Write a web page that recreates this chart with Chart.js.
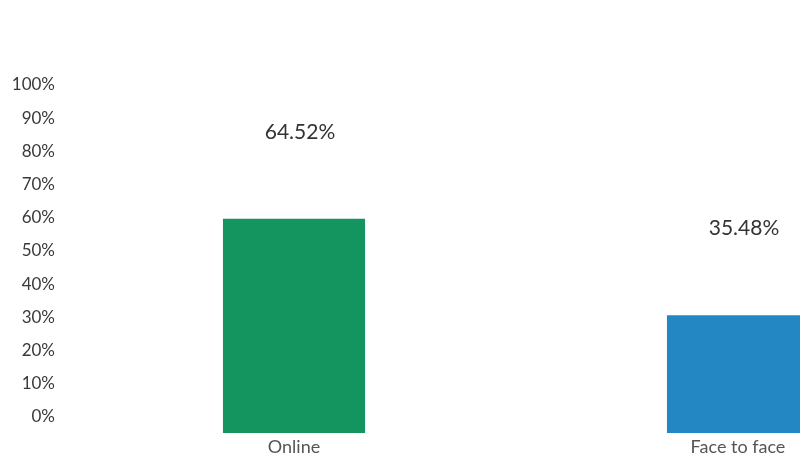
<!DOCTYPE html>
<html>
<head>
<meta charset="utf-8">
<title>Online vs Face to face</title>
<script src="https://cdn.jsdelivr.net/npm/chart.js@4/dist/chart.umd.min.js"></script>
<style>
  html, body { margin: 0; padding: 0; background: #ffffff; overflow: hidden; }
  #wrap { width: 960px; height: 459px; }
  canvas { display: block; }
</style>
</head>
<body>
<div id="wrap"><canvas id="chart" width="960" height="459"></canvas></div>
<script>
// Share of responses by delivery mode (percent)
const categories = ['Online', 'Face to face'];
const shares = [64.52, 35.48];
const barColors = ['#14955f', '#2387c3'];
const tickValues = [0, 10, 20, 30, 40, 50, 60, 70, 80, 90, 100];

const FONT = 'Lato, "Open Sans", sans-serif';

// Writes each bar's value above it
const valueLabels = {
  id: 'valueLabels',
  afterDatasetsDraw(chart) {
    const ctx = chart.ctx;
    const meta = chart.getDatasetMeta(0);
    ctx.save();
    ctx.font = '21px ' + FONT;
    ctx.fillStyle = '#333333';
    ctx.textAlign = 'center';
    ctx.textBaseline = 'middle';
    meta.data.forEach((bar, i) => {
      const v = chart.data.datasets[0].data[i];
      ctx.fillText(v.toFixed(2) + '%', bar.x + 6, bar.y - 87);
    });
    ctx.restore();
  }
};

new Chart(document.getElementById('chart'), {
  type: 'bar',
  data: {
    labels: categories,
    datasets: [{
      data: shares,
      backgroundColor: barColors,
      borderWidth: 0,
      categoryPercentage: 1,
      barPercentage: 0.32
    }]
  },
  options: {
    responsive: false,
    animation: false,
    events: [],
    layout: { padding: { top: 101, right: 0, left: 0, bottom: 0 } },
    plugins: { legend: { display: false }, tooltip: { enabled: false } },
    scales: {
      x: {
        grid: { display: false, drawTicks: false },
        border: { display: false },
        ticks: {
          color: '#555555',
          padding: 3,
          maxRotation: 0,
          font: { family: FONT, size: 18 }
        },
        afterFit(scale) {
          scale.height = 26;
          scale.paddingLeft = 0;
          scale.paddingRight = 0;
        }
      },
      y: {
        min: 0,
        max: 100,
        grid: { display: false, drawTicks: false },
        border: { display: false },
        afterBuildTicks(scale) { scale.ticks = tickValues.map(v => ({ value: v })); },
        afterFit(scale) {
          scale.width = 72;
          scale.paddingTop = 0;
          scale.paddingBottom = 0;
        },
        ticks: {
          color: '#3a3a3a',
          padding: 17,
          labelOffset: -16,
          font: { family: FONT, size: 17 },
          callback: v => v + '%'
        }
      }
    }
  },
  plugins: [valueLabels]
});
</script>
</body>
</html>
